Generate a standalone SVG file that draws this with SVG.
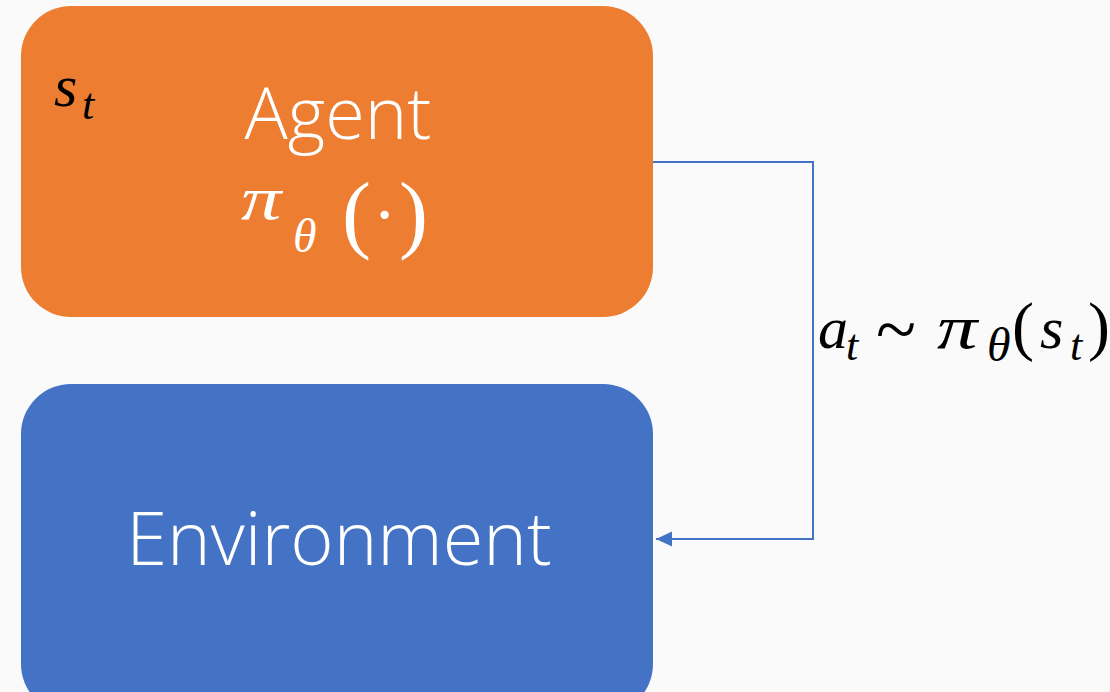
<svg xmlns="http://www.w3.org/2000/svg" width="1110" height="692" viewBox="0 0 1110 692">
  <defs>
    <style>
      .title { font-family: "Open Sans", "Liberation Sans", sans-serif; font-weight: 300; fill: #ffffff; }
      .mi { font-family: "Liberation Serif", "DejaVu Serif", serif; font-style: italic; }
      .mu { font-family: "Liberation Serif", "DejaVu Serif", serif; }
      .conn { fill: none; stroke: #4472C4; stroke-width: 2; }
    </style>
    <marker id="arrow" markerUnits="userSpaceOnUse" markerWidth="16" markerHeight="16" refX="16" refY="7.5" orient="auto">
      <path d="M0,0 L16,7.5 L0,15 z" fill="#4472C4"/>
    </marker>
  </defs>
  <rect width="1110" height="692" fill="#FAFAFA"/>

  <g id="agent">
    <rect x="21" y="6" width="632" height="311" rx="50" ry="50" fill="#ED7D31"/>
    <text class="title" x="338" y="139" font-size="72" text-anchor="middle">Agent</text>
    <text class="mi" fill="#ffffff" font-size="62" transform="translate(241,219) scale(1.3,1)">π</text>
    <text class="mi" fill="#ffffff" x="293" y="252" font-size="48">θ</text>
    <text class="mu" fill="#ffffff" x="342" y="242" font-size="87">(</text>
    <text class="mu" fill="#ffffff" x="373" y="238" font-size="70">·</text>
    <text class="mu" fill="#ffffff" x="399" y="242" font-size="87">)</text>
    <text fill="#000000">
      <tspan class="mi" x="54" y="106" font-size="60">s</tspan>
      <tspan class="mi" x="82" y="119" font-size="44">t</tspan>
    </text>
  </g>

  <g id="environment">
    <rect x="21" y="384" width="632" height="330" rx="50" ry="50" fill="#4472C4"/>
    <text class="title" x="339" y="565" font-size="74" text-anchor="middle">Environment</text>
  </g>

  <g id="connectors">
    <path class="conn" d="M653,162 H813 V539 H656" marker-end="url(#arrow)"/>
    <text fill="#000000">
      <tspan class="mi" x="818" y="348" font-size="60">a</tspan>
      <tspan class="mi" x="846" y="360" font-size="44">t</tspan>
      <tspan class="mu" x="876" y="354" font-size="74">~</tspan>
    </text>
    <text class="mi" fill="#000000" font-size="62" transform="translate(937,348) scale(1.3,1)">π</text>
    <text fill="#000000">
      <tspan class="mi" x="987" y="361" font-size="48">θ</tspan>
      <tspan class="mu" x="1012" y="348" font-size="66">(</tspan>
      <tspan class="mi" x="1040" y="348" font-size="60">s</tspan>
      <tspan class="mi" x="1070" y="360" font-size="44">t</tspan>
      <tspan class="mu" x="1088" y="348" font-size="66">)</tspan>
    </text>
  </g>
</svg>
